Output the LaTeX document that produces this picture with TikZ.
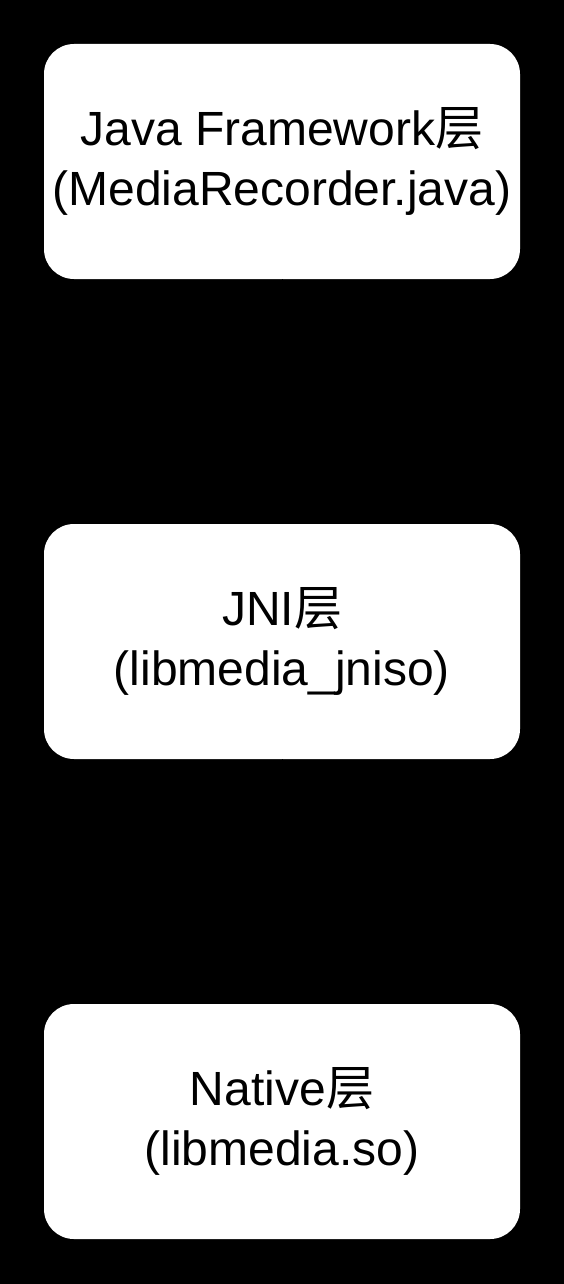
\documentclass[tikz,border=0pt]{standalone}
\usepackage{fontspec}
\setmainfont{Liberation Sans}
\newfontfamily\cjk{Noto Sans CJK SC}
\usetikzlibrary{arrows.meta}
\begin{document}
\begin{tikzpicture}[x=1pt,y=-1pt,
  layerbox/.style={draw=none,fill=white,rounded corners=30pt,minimum width=476pt,minimum height=235pt,inner sep=0pt,align=center,
    font=\fontsize{48}{60}\selectfont},
  link/.style={draw=black,line width=1pt,-{Stealth[length=12pt]}}]
\fill[black] (0,0) rectangle (564,1284);
\useasboundingbox (0,0) rectangle (564,1284);
\node[layerbox] (java) at (282,161.5) {Java Framework{\cjk 层}\\(MediaRecorder.java)};
\node[layerbox] (jni) at (282,641.5) {JNI{\cjk 层}\\(libmedia\_jniso)};
\node[layerbox] (native) at (282,1121.5) {Native{\cjk 层}\\(libmedia.so)};
\draw[link] (java) -- (jni);
\draw[link] (jni) -- (native);
\end{tikzpicture}
\end{document}
